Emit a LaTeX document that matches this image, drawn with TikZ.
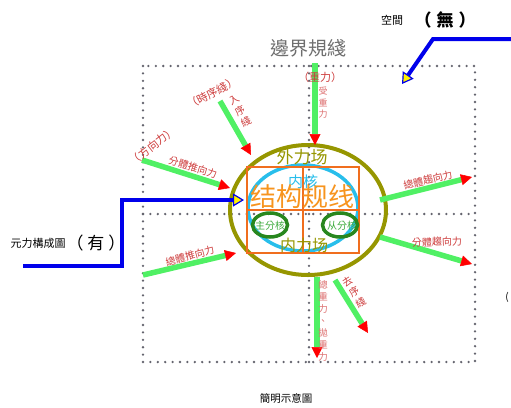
\documentclass[tikz,border=0pt]{standalone}
\usepackage{fontspec}
\setmainfont{Noto Sans CJK TC}
\usetikzlibrary{arrows.meta}
\definecolor{dotgray}{RGB}{100,100,110}
\definecolor{limegreen}{RGB}{80,240,100}
\definecolor{bluecol}{RGB}{0,0,235}
\definecolor{olivec}{RGB}{150,150,0}
\definecolor{cyanc}{RGB}{40,190,235}
\definecolor{orangec}{RGB}{240,110,30}
\definecolor{orangetext}{RGB}{247,148,30}
\definecolor{dgreen}{RGB}{40,135,30}
\definecolor{greentext}{RGB}{60,170,60}
\definecolor{redtext}{RGB}{205,60,60}
\definecolor{pinktext}{RGB}{220,110,110}
\definecolor{graytext}{RGB}{110,110,110}
\begin{document}
\begin{tikzpicture}[x=1pt,y=-1pt,
  dots/.style={draw=dotgray, line width=2.6pt, line cap=round, dash pattern=on 0pt off 7.4pt},
  garrow/.style={draw=limegreen, line width=5.5pt, -{Triangle[length=11pt,width=11pt,color=red,fill=red,line width=0.5pt]}},
  barrow/.style={draw=bluecol, line width=4pt, -{Triangle[length=11pt,width=13pt,fill=yellow,color=bluecol,line width=1.2pt]}},
  txt/.style={inner sep=0pt},
  lbl/.style={inner sep=0pt, text=redtext, font=\fontsize{10}{12}\selectfont},
  stack/.style={inner sep=0pt, text=pinktext, align=center},
]
\useasboundingbox (0,0) rectangle (511,407);

% dotted frame
\draw[dots] (143,66) rectangle (475,362);
\draw[dots] (143,214) -- (475,214);
\draw[dots] (309,66) -- (309,362);

% shapes in the middle
\draw[olivec, line width=4pt] (308,210) ellipse [x radius=78, y radius=65];
\draw[cyanc, line width=3.5pt] (303,208) ellipse [x radius=55, y radius=43];
\draw[orangec, line width=2.6pt] (247,167) rectangle (359,253);
\draw[orangec, line width=2.6pt] (303,167) -- (303,253);
\draw[orangec, line width=2.6pt] (247,210) -- (359,210);

\node[txt, text=olivec, font=\fontsize{17}{17}\selectfont] (wai) at (302,157) {外力场};
\node[txt, text=cyanc, font=\fontsize{15}{15}\selectfont] (neihe) at (303,182) {内核};
\node[txt, text=orangetext, font=\fontsize{26}{26}\selectfont] (jg) at (302,197) {结构规线};
\node[txt, text=olivec, font=\fontsize{16}{16}\selectfont] (nei) at (304,245) {内力场};
\node[txt, text=greentext, font=\fontsize{10}{10}\selectfont] (zhu) at (270,226) {主分核};
\node[txt, text=greentext, font=\fontsize{10}{10}\selectfont] (cong) at (342,226) {从分核};
\draw[dgreen, line width=3.5pt] (270,225) ellipse [x radius=17.5, y radius=12];
\draw[dgreen, line width=3.5pt] (340,225) ellipse [x radius=17.5, y radius=12];

% green arrows
\coordinate (g1a) at (315,63);  \coordinate (g1b) at (315,145);
\coordinate (g2a) at (220,101); \coordinate (g2b) at (251,155);
\coordinate (g3a) at (142,160); \coordinate (g3b) at (230,188);
\coordinate (g4a) at (143,275); \coordinate (g4b) at (236,253);
\coordinate (g5a) at (380,200); \coordinate (g5b) at (472,177);
\coordinate (g6a) at (380,237); \coordinate (g6b) at (472,264);
\coordinate (g7a) at (317,277); \coordinate (g7b) at (317,358);
\coordinate (g8a) at (335,280); \coordinate (g8b) at (368,333);
\foreach \i in {1,...,8} {\draw[garrow] (g\i a) -- (g\i b);}

% blue arrows
\coordinate (bl0) at (23,266); \coordinate (bl1) at (122,266);
\coordinate (bl2) at (122,200); \coordinate (bl3) at (244,200);
\draw[barrow] (bl0) -- (bl1) -- (bl2) -- (bl3);
\coordinate (br0) at (512,39); \coordinate (br1) at (433,39);
\coordinate (br2) at (402,84);
\draw[barrow] (br0) -- (br1) -- (br2);

% black / gray texts
\node[txt, text=graytext, font=\fontsize{19}{19}\selectfont] (bj) at (308,48) {邊界規綫};
\node[txt, font=\fontsize{11}{11}\selectfont] (kj) at (392,20) {空間};
\node[txt, font=\fontsize{17}{17}\selectfont\bfseries] (wu) at (445,20) {（\hspace{5pt}無\hspace{5pt}）};
\node[txt, font=\fontsize{11}{11}\selectfont] (yl) at (38,243) {元力構成圖};
\node[txt, font=\fontsize{17}{17}\selectfont] (you) at (96,243) {（\hspace{4pt}有\hspace{4pt}）};
\node[txt, font=\fontsize{10.5}{10.5}\selectfont] (jm) at (286,398) {簡明示意圖};
\node[txt, font=\fontsize{10}{10}\selectfont] (par) at (507,297) {(};

% red labels
\node[lbl, font=\fontsize{11}{11}\selectfont] (zl) at (320,77) {（重力）};
\node[stack, font=\fontsize{9}{11.5}\selectfont] (szl) at (323,103) {受\\重\\力};
\node[lbl, font=\fontsize{11}{11}\selectfont, rotate=28] (sx) at (212,93) {（時序綫）};
\node[lbl, align=center, font=\fontsize{10}{12.5}\selectfont, rotate=29] (rx) at (240,111) {入\\序\\綫};
\node[lbl, font=\fontsize{11}{11}\selectfont, rotate=38] (fx) at (153,146) {（方向力）};
\node[lbl, rotate=-17] (ftx) at (193,167) {分體推向力};
\node[lbl, rotate=15] (ztx) at (190,256) {總體推向力};
\node[lbl, rotate=14] (zqx) at (428,180) {總體趨向力};
\node[lbl, rotate=2] (fqx) at (437,242) {分體趨向力};
\node[stack, font=\fontsize{9.5}{12}\selectfont] (zzl) at (323,321) {總\\重\\力\\、\\拋\\重\\力};
\node[lbl, align=center, font=\fontsize{10}{12.5}\selectfont, rotate=32] (qx) at (354,292) {去\\序\\綫};
\end{tikzpicture}
\end{document}
